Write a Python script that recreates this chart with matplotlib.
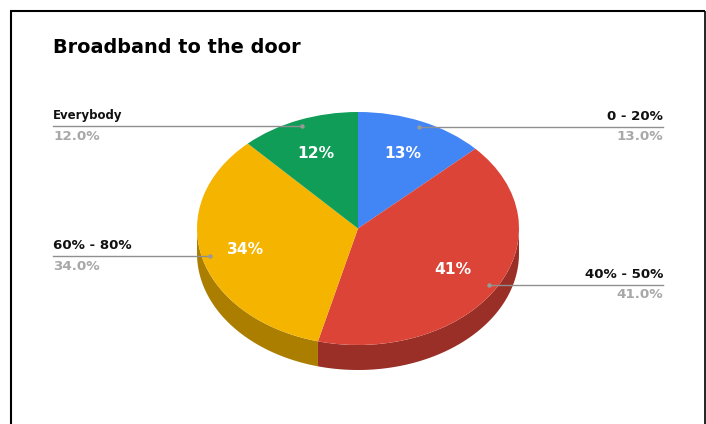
#!/usr/bin/env python3
# plot.py - 3D-looking pie of broadband coverage shares

import numpy as np
import matplotlib
matplotlib.use("Agg")
import matplotlib.pyplot as plt

W, H = 706, 424

categories = ["0 - 20%", "40% - 50%", "60% - 80%", "Everybody"]
values = [13.0, 41.0, 34.0, 12.0]
top_colors = ["#4285F4", "#DB4437", "#F4B400", "#0F9D58"]
side_colors = ["#2E5DAA", "#992F26", "#AB7E00", "#0A6E3D"]

# pie geometry in pixels
CX, CY = 358, 228.5
RX, RY = 161, 116.5
DEPTH = 25

plt.rcParams["font.family"] = ["DejaVu Sans"]

fig = plt.figure(figsize=(W / 100, H / 100), dpi=100, facecolor="white")

# overlay in pixel coordinates for frame, leaders and text
over = fig.add_axes([0, 0, 1, 1], zorder=3)
over.set_xlim(0, W)
over.set_ylim(H, 0)
over.axis("off")

pie_ax = fig.add_axes([(CX - RX) / W, 1 - (CY + RY) / H, 2 * RX / W, 2 * RY / H], zorder=2)

# side wall, only the part of each slice facing the viewer
depth = DEPTH / RY
total = sum(values)
start = 0.0
for val, col in zip(values, side_colors):
    a0, a1 = start / total * 2 * np.pi, (start + val) / total * 2 * np.pi
    start += val
    lo, hi = max(a0, np.pi / 2), min(a1, 3 * np.pi / 2)
    if hi <= lo:
        continue
    t = np.linspace(lo, hi, 120)
    x, y = np.sin(t), np.cos(t)
    pie_ax.fill(np.r_[x, x[::-1]], np.r_[y, y[::-1] - depth], color=col, lw=0, clip_on=False)

wedges, _ = pie_ax.pie(values, colors=top_colors, startangle=90, counterclock=False,
                       radius=1.0, wedgeprops={"linewidth": 0})
for w in wedges:
    w.set_clip_on(False)
pie_ax.set_aspect("auto")
pie_ax.set_xlim(-1, 1)
pie_ax.set_ylim(-1, 1)
pie_ax.axis("off")

# frame, open at the bottom
over.plot([10.5, 10.5], [H, 11], color="black", lw=1.5, clip_on=False, solid_capstyle="butt")
over.plot([10, 705.3], [11, 11], color="black", lw=1.5, solid_capstyle="butt")
over.plot([705.3, 705.3], [11, H], color="black", lw=1.2, solid_capstyle="butt")

over.text(53, 47.5, "Broadband to the door", fontsize=13.9, fontweight="bold", color="#000000",
          va="center", ha="left")

# leader line y, anchor x on the slice, label side, size of the category text
leaders = [(127, 419, "right", 9.6), (285, 489, "right", 9.6), (256, 210, "left", 9.6), (126, 302, "left", 8.5)]
for cat, val, (ly, px, side, fs) in zip(categories, values, leaders):
    edge = 663 if side == "right" else 53
    over.plot([edge, px], [ly, ly], color="#8f8f8f", lw=1.0, zorder=4)
    over.plot([px], [ly], "o", color="#999999", ms=3.2, mew=0, zorder=5)
    over.text(edge, ly - 10.5, cat, fontsize=fs, fontweight="bold", color="#111111", ha=side, va="center")
    over.text(edge, ly + 10, f"{val:.1f}%", fontsize=9.7, fontweight="bold", color="#a8a8a8", ha=side, va="center")

# percentage labels on the slices
inner = [(403, 154), (453, 270), (246, 250), (316, 153)]
for val, (tx, ty) in zip(values, inner):
    over.text(tx, ty, f"{val:.0f}%", fontsize=11.2, fontweight="bold", color="white",
              ha="center", va="center", zorder=5)

fig.savefig("out.png", dpi=100)
